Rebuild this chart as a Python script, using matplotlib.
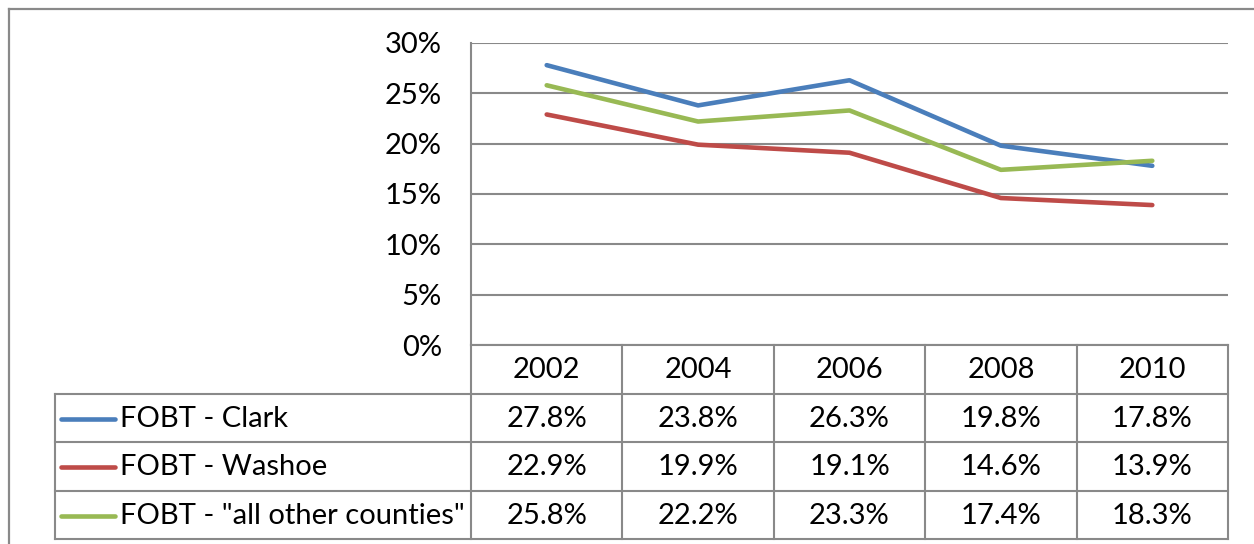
import matplotlib.pyplot as plt
from matplotlib.ticker import FuncFormatter

# Data
years = ["2002", "2004", "2006", "2008", "2010"]
clark = [27.8, 23.8, 26.3, 19.8, 17.8]
washoe = [22.9, 19.9, 19.1, 14.6, 13.9]
others = [25.8, 22.2, 23.3, 17.4, 18.3]
names = ["FOBT - Clark", "FOBT - Washoe", 'FOBT - "all other counties"']
colors = ["#4A7EBB", "#BE4B48", "#98B954"]

plt.rcParams['font.family'] = ['Lato', 'DejaVu Sans']
W, H = 1254, 544
grid_c = "#898989"
fs = 21

fig = plt.figure(figsize=(W / 100, H / 100), dpi=100)

# pixel layout of the Excel chart
pl, pr, pt, pb = 471, 1228, 43, 345
row_h = 48.5
leg_l = 55


def fx(x):
    return x / W


def fy(y):
    return 1 - y / H


# background overlay in pixel coords for frame and table grid
bg = fig.add_axes([0, 0, 1, 1])
bg.set_xlim(0, W)
bg.set_ylim(H, 0)
bg.axis("off")

# outer chart border
bg.plot([9, 9], [H + 5, 9], color=grid_c, lw=1.6)
bg.plot([9, W + 5], [9, 9], color=grid_c, lw=1.6)

# plot area
ax = fig.add_axes([fx(pl), fy(pb), fx(pr - pl), (pb - pt) / H])
x = range(len(years))
for vals, c, n in zip([clark, washoe, others], colors, names):
    ax.plot(x, [v / 100 for v in vals], color=c, lw=3.3, label=n,
            solid_capstyle="round", solid_joinstyle="round")
ax.set_xlim(-0.5, len(years) - 0.5)
ax.set_ylim(0, 0.30)
ax.set_yticks([i * 0.05 for i in range(7)])
ax.yaxis.set_major_formatter(FuncFormatter(lambda v, p: f"{v * 100:.0f}%"))
ax.grid(axis="y", color=grid_c, lw=1.5)
ax.set_axisbelow(True)
ax.set_xticks([])
ax.tick_params(axis="y", length=0, pad=21, labelsize=fs)
for s in ["top", "right", "bottom"]:
    ax.spines[s].set_visible(False)
ax.spines["left"].set_color(grid_c)
ax.spines["left"].set_linewidth(1.5)
ax.patch.set_alpha(0)

# data table
col_w = (pr - pl) / len(years)
ys = [pb + row_h * i for i in range(5)]
tl = dict(color=grid_c, lw=1.5)
# header row
bg.plot([pl, pr], [pb, pb], **tl)
for i in range(len(years) + 1):
    bg.plot([pl + i * col_w] * 2, [pb, ys[4]], **tl)
for i in range(1, 5):
    bg.plot([leg_l, pr], [ys[i]] * 2, **tl)
bg.plot([leg_l, leg_l], [ys[1], ys[4]], **tl)

for i, yr in enumerate(years):
    bg.text(pl + (i + 0.5) * col_w, (ys[0] + ys[1]) / 2 + 1, yr,
            ha="center", va="center", fontsize=fs)

for r, (vals, c, n) in enumerate(zip([clark, washoe, others], colors, names)):
    yc = (ys[r + 1] + ys[r + 2]) / 2 + 1
    bg.plot([61, 115], [yc, yc], color=c, lw=3.3, solid_capstyle="round")
    bg.text(120, yc, n, ha="left", va="center", fontsize=fs)
    for i, v in enumerate(vals):
        bg.text(pl + (i + 0.5) * col_w, yc, f"{v:.1f}%",
                ha="center", va="center", fontsize=fs)

fig.savefig("out.png", dpi=100)
